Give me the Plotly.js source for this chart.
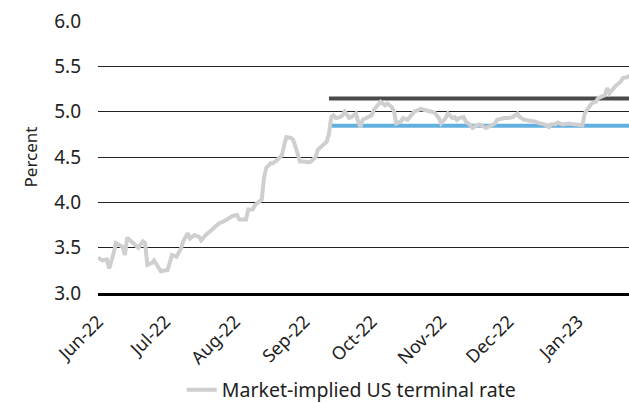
<!DOCTYPE html>
<html>
<head>
<meta charset="utf-8">
<script src="https://cdn.plot.ly/plotly-3.0.1.min.js"></script>
<style>html,body{margin:0;padding:0;background:#fff;}#chart{width:629px;height:403px;}</style>
</head>
<body>
<div id="chart"></div>
<script>
// Market-implied US terminal rate (percent)
const dates = [
"2022-06-01","2022-06-03","2022-06-05","2022-06-06","2022-06-08","2022-06-09","2022-06-12","2022-06-13","2022-06-14","2022-06-16",
"2022-06-18","2022-06-19","2022-06-21","2022-06-22","2022-06-23","2022-06-25","2022-06-26","2022-06-28","2022-06-29","2022-07-01",
"2022-07-02","2022-07-04","2022-07-06","2022-07-08","2022-07-09","2022-07-11","2022-07-12","2022-07-14","2022-07-16","2022-07-17",
"2022-07-19","2022-07-21","2022-07-23","2022-07-25","2022-07-27","2022-07-29","2022-07-31","2022-08-02","2022-08-03","2022-08-06",
"2022-08-07","2022-08-09","2022-08-10","2022-08-11","2022-08-13","2022-08-14","2022-08-15","2022-08-17","2022-08-18","2022-08-20",
"2022-08-21","2022-08-22","2022-08-23","2022-08-24","2022-08-26","2022-08-27","2022-08-29","2022-08-30","2022-09-01","2022-09-03",
"2022-09-04","2022-09-06","2022-09-07","2022-09-09","2022-09-11","2022-09-12","2022-09-13","2022-09-14","2022-09-15","2022-09-17",
"2022-09-18","2022-09-19","2022-09-21","2022-09-22","2022-09-24","2022-09-25","2022-09-26","2022-09-27","2022-09-30","2022-10-01",
"2022-10-02","2022-10-04","2022-10-05","2022-10-06","2022-10-07","2022-10-08","2022-10-10","2022-10-11","2022-10-12","2022-10-14",
"2022-10-15","2022-10-17","2022-10-18","2022-10-20","2022-10-23","2022-10-25","2022-10-27","2022-10-29","2022-10-31","2022-11-01",
"2022-11-03","2022-11-04","2022-11-06","2022-11-07","2022-11-08","2022-11-09","2022-11-11","2022-11-12","2022-11-14","2022-11-15",
"2022-11-17","2022-11-18","2022-11-21","2022-11-23","2022-11-25","2022-11-26","2022-11-29","2022-12-01","2022-12-03","2022-12-05",
"2022-12-06","2022-12-08","2022-12-11","2022-12-13","2022-12-15","2022-12-17","2022-12-19","2022-12-20","2022-12-22","2022-12-23",
"2022-12-25","2022-12-28","2022-12-30","2023-01-01","2023-01-03","2023-01-04","2023-01-06","2023-01-07","2023-01-09","2023-01-10",
"2023-01-12","2023-01-13","2023-01-14","2023-01-15","2023-01-17","2023-01-18","2023-01-20","2023-01-21","2023-01-23","2023-01-24"
];
const terminalRate = [
3.39,3.36,3.37,3.27,3.44,3.55,3.51,3.42,3.61,3.57,
3.53,3.50,3.57,3.55,3.31,3.33,3.36,3.27,3.24,3.25,
3.25,3.42,3.40,3.49,3.57,3.66,3.60,3.64,3.62,3.58,
3.64,3.68,3.73,3.77,3.79,3.82,3.85,3.86,3.81,3.81,
3.92,3.92,3.97,3.99,4.03,4.27,4.38,4.43,4.43,4.47,
4.49,4.52,4.63,4.72,4.71,4.69,4.54,4.45,4.45,4.44,
4.45,4.50,4.58,4.63,4.67,4.76,4.94,4.96,4.93,4.94,
4.96,5.00,4.93,4.94,4.98,4.89,4.83,4.91,4.94,4.96,
5.02,5.07,5.11,5.09,5.07,5.09,5.05,5.00,4.87,4.89,
4.93,4.91,4.94,5.00,5.03,5.02,5.00,4.99,4.93,4.87,
4.93,4.98,4.93,4.94,4.91,4.93,4.94,4.89,4.85,4.82,
4.85,4.86,4.82,4.85,4.87,4.91,4.93,4.93,4.94,4.98,
4.94,4.91,4.90,4.89,4.87,4.86,4.83,4.86,4.86,4.88,
4.86,4.87,4.86,4.86,4.85,4.98,5.05,5.09,5.11,5.15,
5.17,5.18,5.26,5.20,5.26,5.29,5.33,5.37,5.38,5.40
];
// Reference levels (unlabelled horizontal lines)
const levelDates = ["2022-09-12", "2023-01-24"];
const upperLevel = [5.145, 5.145];
const lowerLevel = [4.845, 4.845];
const seriesName = "Market-implied US terminal rate";

const font = "Noto Sans, Open Sans, sans-serif";
const traces = [
  {x: levelDates, y: upperLevel, type: "scatter", mode: "lines", showlegend: false,
   line: {color: "#4a4a4a", width: 4}, hoverinfo: "skip"},
  {x: levelDates, y: lowerLevel, type: "scatter", mode: "lines", showlegend: false,
   line: {color: "#62b0df", width: 4}, hoverinfo: "skip"},
  {x: dates, y: terminalRate, type: "scatter", mode: "lines", name: seriesName,
   line: {color: "#cfcfcf", width: 4}}
];
const layout = {
  width: 629, height: 403,
  margin: {l: 98, r: 0, t: 21, b: 110},
  paper_bgcolor: "#fff", plot_bgcolor: "#fff",
  font: {family: font, color: "#222", size: 16},
  showlegend: true,
  legend: {orientation: "h", x: 0.477, xanchor: "center", yref: "container", y: 0.032, yanchor: "middle",
           font: {size: 19.5, color: "#222"}},
  xaxis: {type: "date", range: ["2022-06-01", "2023-01-23 18:00"], automargin: false,
          tick0: "2022-06-01", dtick: "M1", tickformat: "%b-%y", tickangle: -45,
          showgrid: false, zeroline: false, showline: true, linecolor: "#000", linewidth: 3,
          ticks: "", ticklabelstandoff: 8, tickfont: {size: 18, color: "#222"}},
  yaxis: {range: [3, 6], dtick: 0.5, tickformat: ".1f", showgrid: true, gridcolor: "#222",
          gridwidth: 1, zeroline: false, showline: false, ticks: "", ticklabelstandoff: 16,
          automargin: false, tickfont: {size: 19, color: "#222"},
          title: {text: "Percent", font: {size: 17, color: "#222"}, standoff: 12}}
};
Plotly.newPlot("chart", traces, layout, {displayModeBar: false, staticPlot: true});
</script>
</body>
</html>
